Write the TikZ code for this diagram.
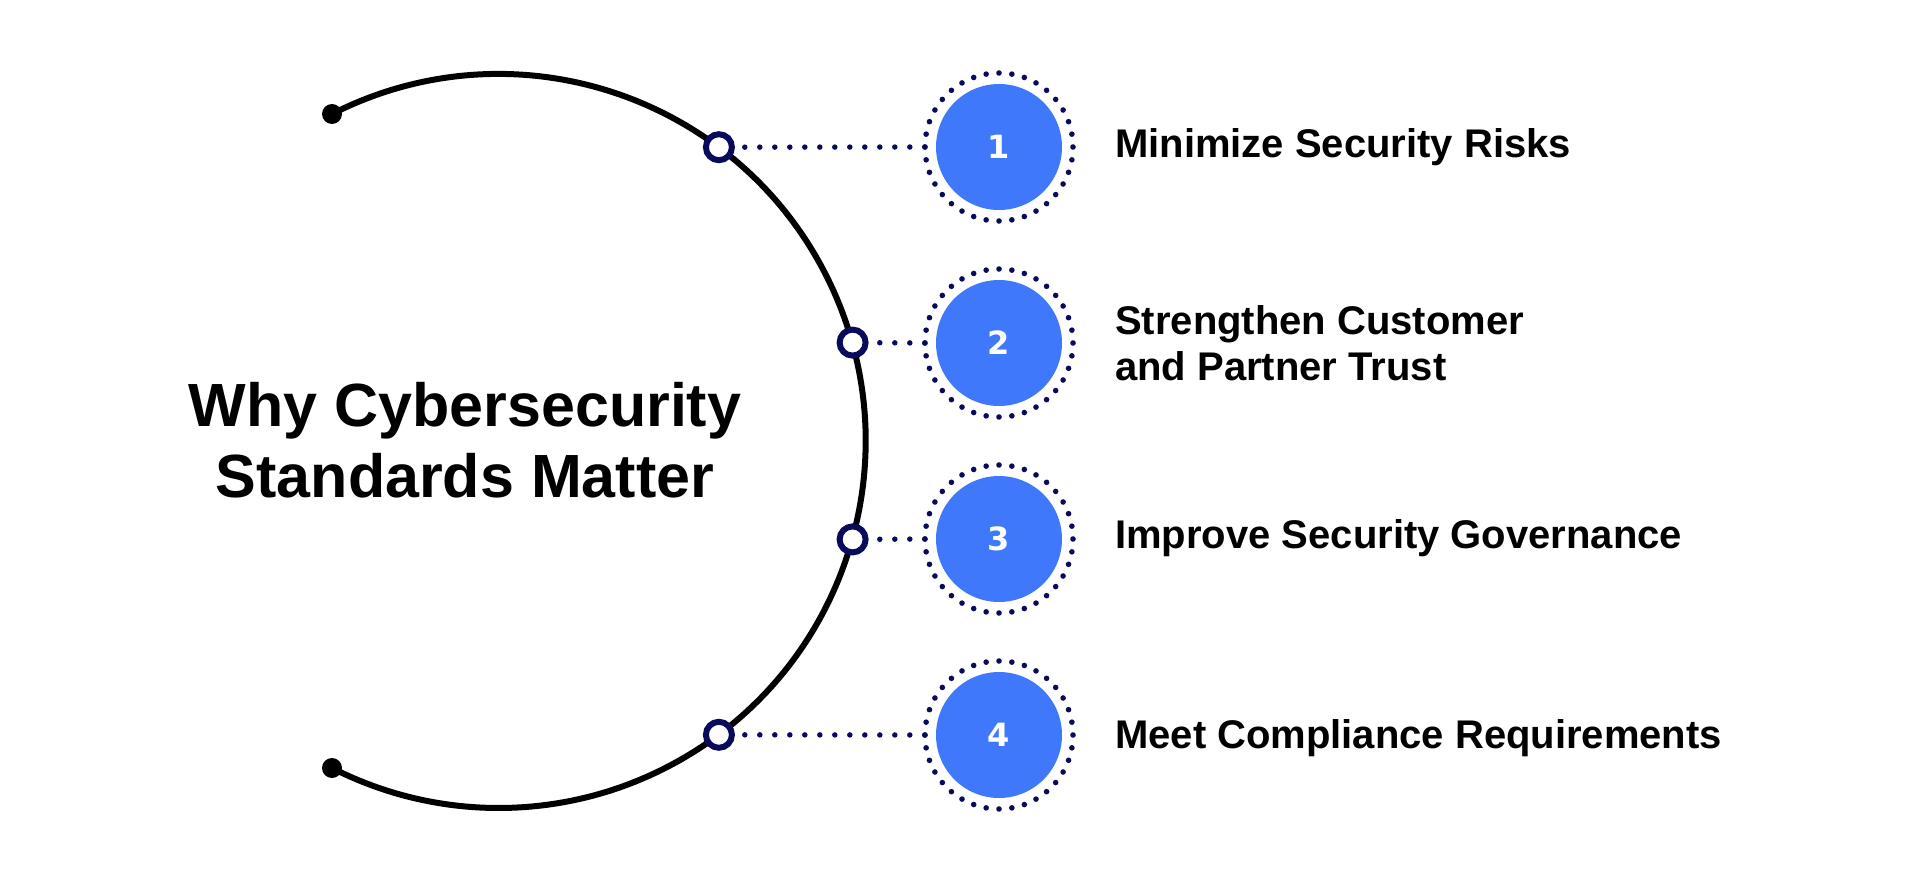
\documentclass[tikz,border=0pt]{standalone}
\usepackage{fontspec}
\setmainfont{Liberation Sans}
\newfontfamily\numfont{DejaVu Sans}
\usetikzlibrary{calc,backgrounds}
\definecolor{cblue}{RGB}{64,120,252}
\definecolor{cnavy}{RGB}{10,10,92}
\begin{document}
\begin{tikzpicture}[x=1pt,y=-1pt,
  arcline/.style={line width=6pt, black},
  enddot/.style={circle, fill=black, inner sep=0pt, minimum size=20pt},
  joint/.style={circle, draw=cnavy, line width=6pt, fill=white, inner sep=0pt, minimum size=26pt},
  ringbox/.style={circle, inner sep=0pt, minimum size=148pt},
  numdisc/.style={circle, fill=cblue, inner sep=0pt, minimum size=126pt, text=white, font=\numfont\bfseries\fontsize{32}{32}\selectfont},
  dotline/.style={cnavy, line width=5.5pt, line cap=round, dash pattern=on 0pt off 15pt},
  ringdot/.style={cnavy},
  itemlabel/.style={anchor=base west, font=\bfseries\fontsize{40}{46}\selectfont, align=left, inner sep=0pt},
  titlebox/.style={font=\bfseries\fontsize{61}{71}\selectfont, align=center, inner sep=0pt}
]
\useasboundingbox (0,0) rectangle (1920,885);
\coordinate (C) at (499,441);
% big arc
\node[enddot] (e1) at (332,114) {};
\node[enddot] (e2) at (332,768) {};
\draw[arcline] (e1.center) arc[start angle=117, end angle=-117, radius=367pt];
% rings and discs
\foreach \i/\y in {1/147,2/343,3/539,4/735}{
  \node[ringbox] (r\i) at (999,\y) {};
  \foreach \a in {0,10,...,350}
    \fill[ringdot] (r\i.center) ++(\a:74pt) circle[radius=2.8pt];
  \node[numdisc] (n\i) at (999,\y) {\i};
}
% joints on the arc
\node[joint] (j1) at (718.9,147.2) {};
\node[joint] (j2) at (852.6,342.6) {};
\node[joint] (j3) at (852.6,539.4) {};
\node[joint] (j4) at (718.9,734.8) {};
\begin{pgfonlayer}{background}
\foreach \i in {1,...,4}
  \draw[dotline] (r\i.west) -- (j\i.center);
\end{pgfonlayer}
% labels
\node[itemlabel] (l1) at (1115,158) {Minimize Security Risks};
\node[itemlabel] (l2) at (1115,380) {Strengthen Customer\\and Partner Trust};
\node[itemlabel] (l3) at (1115,548) {Improve Security Governance};
\node[itemlabel] (l4) at (1115,748) {Meet Compliance Requirements};
% title
\node[titlebox] (t) at (465,440) {Why Cybersecurity\\Standards Matter};
\end{tikzpicture}
\end{document}
